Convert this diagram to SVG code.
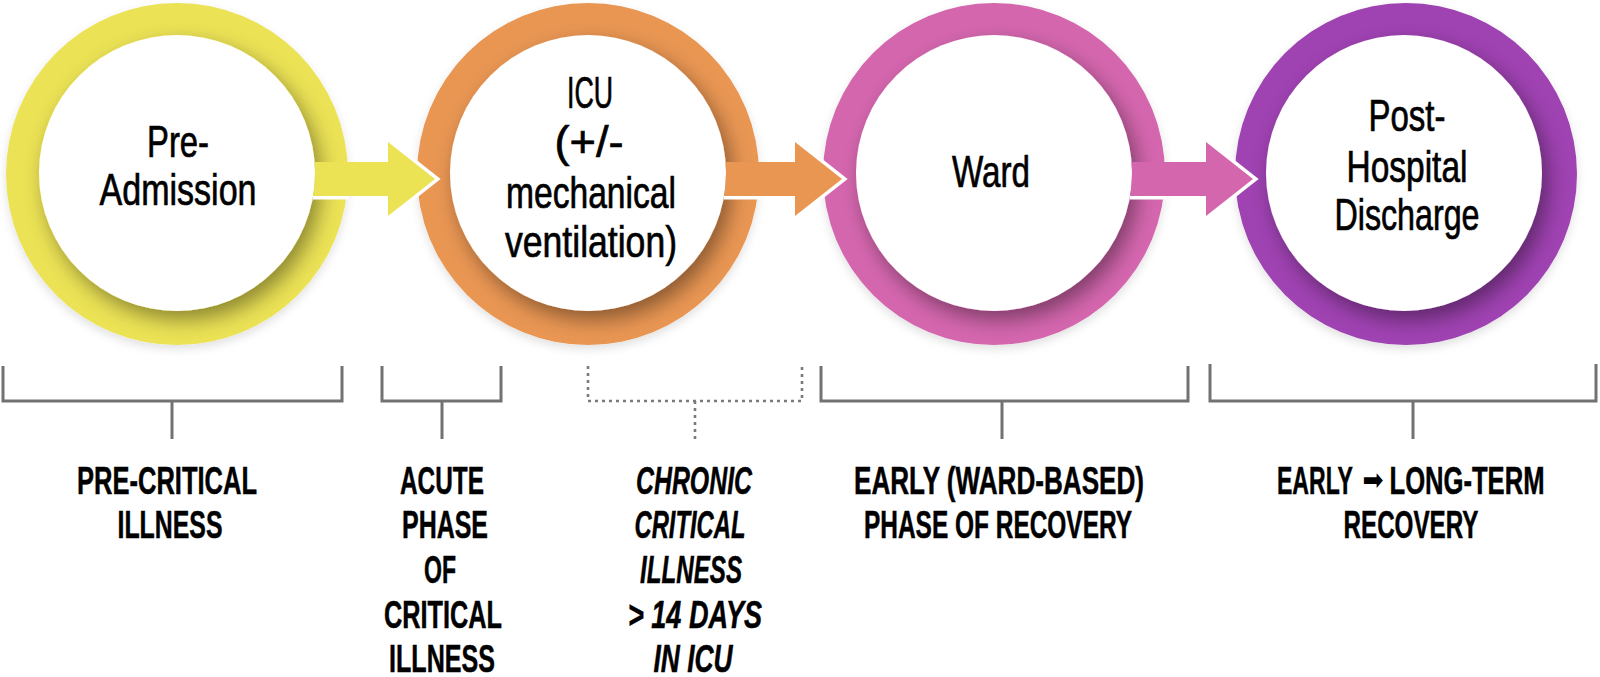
<svg xmlns="http://www.w3.org/2000/svg" width="1600" height="677" viewBox="0 0 1600 677">
<style>
  .ctext { font-family: "Liberation Sans Narrow", "Liberation Sans", Arial, sans-serif; font-size: 44px; fill: #000; stroke: #000; stroke-width: 0.7px; text-anchor: middle; }
  .btext { font-family: "Liberation Sans Narrow", "Liberation Sans", Arial, sans-serif; font-size: 38px; font-weight: bold; fill: #000; stroke: #000; stroke-width: 0.5px; text-anchor: middle; }
  .itext { font-style: italic; }
  .arr { font-family: "DejaVu Sans", sans-serif; font-size: 30px; fill: #000; text-anchor: middle; }
  .brk { fill: none; stroke: #727272; stroke-width: 3; }
  .dot { stroke-dasharray: 3 4; stroke-width: 2.6; stroke: #7a7a7a; }
  .inner { fill: #fff; filter: url(#inShadow); }
  .ring { filter: url(#outShadow); }
  .hout { fill: none; stroke: #fff; stroke-width: 7; stroke-linejoin: miter; }
</style>
<defs>
  <filter id="inShadow" x="-30%" y="-30%" width="160%" height="160%">
    <feDropShadow dx="6" dy="9" stdDeviation="10" flood-color="#000" flood-opacity="0.4"/>
  </filter>
  <filter id="outShadow" x="-20%" y="-20%" width="140%" height="140%">
    <feDropShadow dx="0" dy="4" stdDeviation="5" flood-color="#000" flood-opacity="0.12"/>
  </filter>
</defs>
<rect width="1600" height="677" fill="#fff"/>

<g id="node-pre-admission">
  <circle class="ring" cx="177" cy="174" r="171" fill="#EBE254"/>
  <circle class="inner" cx="177" cy="173" r="138"/>
  <text class="ctext" x="178" y="157" textLength="62" lengthAdjust="spacingAndGlyphs">Pre-</text>
  <text class="ctext" x="178" y="205" textLength="157" lengthAdjust="spacingAndGlyphs">Admission</text>
</g>

<g id="node-icu">
  <circle class="ring" cx="588" cy="174" r="171" fill="#E99652"/>
  <circle class="inner" cx="588" cy="173" r="138"/>
  <text class="ctext" x="590" y="108" textLength="46" lengthAdjust="spacingAndGlyphs">ICU</text>
  <text class="ctext" x="589" y="157" textLength="69" lengthAdjust="spacingAndGlyphs">(+/-</text>
  <text class="ctext" x="591" y="208" textLength="170" lengthAdjust="spacingAndGlyphs">mechanical</text>
  <text class="ctext" x="591" y="257" textLength="172" lengthAdjust="spacingAndGlyphs">ventilation)</text>
</g>

<g id="node-ward">
  <circle class="ring" cx="994" cy="174" r="171" fill="#D466AE"/>
  <circle class="inner" cx="994" cy="173" r="138"/>
  <text class="ctext" x="991" y="187" textLength="78" lengthAdjust="spacingAndGlyphs">Ward</text>
</g>

<g id="node-post-hospital">
  <circle class="ring" cx="1406" cy="174" r="171" fill="#9F42B2"/>
  <circle class="inner" cx="1404" cy="173" r="138"/>
  <text class="ctext" x="1407" y="131" textLength="77" lengthAdjust="spacingAndGlyphs">Post-</text>
  <text class="ctext" x="1407" y="182" textLength="121" lengthAdjust="spacingAndGlyphs">Hospital</text>
  <text class="ctext" x="1407" y="230" textLength="145" lengthAdjust="spacingAndGlyphs">Discharge</text>
</g>

<g id="connectors">
  <rect x="313" y="196" width="36" height="3.5" fill="#fff"/>
  <path class="hout" d="M388,142 L435,179 L388,216"/>
  <path fill="#EBE254" d="M314.6,162 H388 V142 L435,179 L388,216 V196 H313.1 A138,138 0 0 0 314.6,162 Z"/>

  <rect x="724" y="196" width="37" height="3.5" fill="#fff"/>
  <path class="hout" d="M795,142 L842,179 L795,216"/>
  <path fill="#E99652" d="M725.6,162 H795 V142 L842,179 L795,216 V196 H724.1 A138,138 0 0 0 725.6,162 Z"/>

  <rect x="1130" y="196" width="37" height="3.5" fill="#fff"/>
  <path class="hout" d="M1206,142 L1253,179 L1206,216"/>
  <path fill="#D466AE" d="M1131.6,162 H1206 V142 L1253,179 L1206,216 V196 H1130.1 A138,138 0 0 0 1131.6,162 Z"/>
</g>

<g id="phase-pre-critical">
  <path class="brk" d="M3,366 V401 H342 V366 M172,401 V439"/>
  <text class="btext" x="167" y="494" textLength="180" lengthAdjust="spacingAndGlyphs">PRE-CRITICAL</text>
  <text class="btext" x="170" y="538" textLength="105" lengthAdjust="spacingAndGlyphs">ILLNESS</text>
</g>

<g id="phase-acute">
  <path class="brk" d="M382,366 V401 H501 V366 M442,401 V439"/>
  <text class="btext" x="442" y="494" textLength="84" lengthAdjust="spacingAndGlyphs">ACUTE</text>
  <text class="btext" x="445" y="538" textLength="86" lengthAdjust="spacingAndGlyphs">PHASE</text>
  <text class="btext" x="440" y="583" textLength="32" lengthAdjust="spacingAndGlyphs">OF</text>
  <text class="btext" x="443" y="628" textLength="118" lengthAdjust="spacingAndGlyphs">CRITICAL</text>
  <text class="btext" x="442" y="672" textLength="106" lengthAdjust="spacingAndGlyphs">ILLNESS</text>
</g>

<g id="phase-chronic">
  <path class="brk dot" d="M588,366 V401 H802 V366 M695,401 V439"/>
  <text class="btext itext" x="694" y="494" textLength="116" lengthAdjust="spacingAndGlyphs">CHRONIC</text>
  <text class="btext itext" x="690" y="538" textLength="111" lengthAdjust="spacingAndGlyphs">CRITICAL</text>
  <text class="btext itext" x="691" y="583" textLength="102" lengthAdjust="spacingAndGlyphs">ILLNESS</text>
  <text class="btext itext" x="695" y="628" textLength="134" lengthAdjust="spacingAndGlyphs">&gt; 14 DAYS</text>
  <text class="btext itext" x="693" y="672" textLength="79" lengthAdjust="spacingAndGlyphs">IN ICU</text>
</g>

<g id="phase-early">
  <path class="brk" d="M821,366 V401 H1188 V366 M1002,401 V439"/>
  <text class="btext" x="999" y="494" textLength="290" lengthAdjust="spacingAndGlyphs">EARLY (WARD-BASED)</text>
  <text class="btext" x="998" y="538" textLength="268" lengthAdjust="spacingAndGlyphs">PHASE OF RECOVERY</text>
</g>

<g id="phase-long-term">
  <path class="brk" d="M1210,364 V401 H1596 V364 M1413,401 V439"/>
  <text class="btext" x="1315" y="494" textLength="76" lengthAdjust="spacingAndGlyphs">EARLY</text>
  <text class="arr" x="1373" y="490" textLength="21" lengthAdjust="spacingAndGlyphs">➡</text>
  <text class="btext" x="1467" y="494" textLength="155" lengthAdjust="spacingAndGlyphs">LONG-TERM</text>
  <text class="btext" x="1411" y="538" textLength="135" lengthAdjust="spacingAndGlyphs">RECOVERY</text>
</g>
</svg>
